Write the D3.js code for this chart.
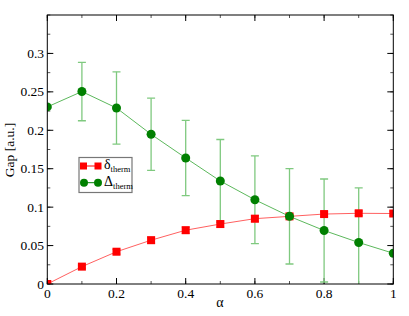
<!DOCTYPE html>
<html>
<head>
<meta charset="utf-8">
<script src="https://cdn.jsdelivr.net/npm/d3@7"></script>
<style>
  body { margin: 0; background: #fff; }
  text { font-family: "Liberation Serif", "DejaVu Serif", serif; }
</style>
</head>
<body>
<div id="chart"></div>
<script>
// data
var alpha = [0, 0.1, 0.2, 0.3, 0.4, 0.5, 0.6, 0.7, 0.8, 0.9, 1.0];
var deltaTherm = [0, 0.0226, 0.042, 0.057, 0.070, 0.078, 0.085, 0.088, 0.091, 0.092, 0.0917];
var deltaErr = [0, 0.002, 0.003, 0.004, 0.004, 0.004, 0.004, 0.003, 0.003, 0.003, 0.003];
var bigDelta = [0.2304, 0.2504, 0.229, 0.1948, 0.164, 0.134, 0.1096, 0.088, 0.0696, 0.054, 0.040];
var bigDeltaErr = [0, 0.038, 0.047, 0.047, 0.049, 0.054, 0.057, 0.062, 0.067, 0.071, 0];
var xTicks = [0, 0.2, 0.4, 0.6, 0.8, 1];
var yTicks = [0, 0.05, 0.1, 0.15, 0.2, 0.25, 0.3];

var chart_width = 409
var chart_height = 316
var pLeft = 47.3, pRight = 393.3, pTop = 15, pBottom = 284

var svg = d3.select('#chart')
    .append('svg')
    .attr('width', chart_width)
    .attr('height', chart_height);

var x = d3.scaleLinear().domain([0, 1]).range([pLeft, pRight]);
var y = d3.scaleLinear().domain([0, 0.35]).range([pBottom, pTop]);

// ticks (inward, all four sides)
var xMinor = d3.range(0, 1.0001, 0.1);
var yMinor = d3.range(0, 0.3501, 0.025);
function tickLines(vals, len, horiz, col) {
    vals.forEach(function(v){
        if (horiz) {
            svg.append('line').attr('x1', x(v)).attr('x2', x(v)).attr('y1', pBottom).attr('y2', pBottom - len).attr('stroke', col);
            svg.append('line').attr('x1', x(v)).attr('x2', x(v)).attr('y1', pTop).attr('y2', pTop + len).attr('stroke', col);
        } else {
            svg.append('line').attr('y1', y(v)).attr('y2', y(v)).attr('x1', pLeft).attr('x2', pLeft + len).attr('stroke', col);
            svg.append('line').attr('y1', y(v)).attr('y2', y(v)).attr('x1', pRight).attr('x2', pRight - len).attr('stroke', col);
        }
    });
}
tickLines(xMinor, 3, true, '#555');
tickLines(xTicks, 6, true, '#000');
tickLines(yMinor, 3, false, '#555');
tickLines(yTicks, 6, false, '#000');

svg.selectAll('.xl')
    .data(xTicks)
    .enter()
    .append('text')
    .text(function(d){ return +d.toFixed(1); })
    .attr('x', function(d){ return x(d); })
    .attr('y', 298)
    .attr('font-size', 13.5)
    .attr('text-anchor', 'middle');

svg.selectAll('.yl')
    .data(yTicks)
    .enter()
    .append('text')
    .text(function(d){ return +d.toFixed(2); })
    .attr('x', 44)
    .attr('y', function(d){ return y(d) + 4.5; })
    .attr('font-size', 13.5)
    .attr('text-anchor', 'end');

svg.append('text')
    .text('α')
    .attr('x', 220).attr('y', 307)
    .attr('font-size', 14)
    .attr('text-anchor', 'middle');

svg.append('text')
    .text('Gap [a.u.]')
    .attr('transform', 'translate(14,150) rotate(-90)')
    .attr('font-size', 13.5)
    .attr('text-anchor', 'middle');

var gData = alpha.map(function(a, i){ return {x: a, y: bigDelta[i], e: bigDeltaErr[i]}; });
var rData = alpha.map(function(a, i){ return {x: a, y: deltaTherm[i], e: deltaErr[i]}; });

svg.append('clipPath').attr('id', 'clip')
    .append('rect').attr('x', pLeft).attr('y', pTop).attr('width', pRight - pLeft).attr('height', pBottom - pTop);
var plot = svg.append('g').attr('clip-path', 'url(#clip)');

function errBars(data, color, cap) {
    var g = plot.append('g').attr('stroke', color).attr('stroke-width', 1.3);
    data.filter(function(d){ return d.e > 0; }).forEach(function(d){
        g.append('line').attr('x1', x(d.x)).attr('x2', x(d.x)).attr('y1', y(d.y - d.e)).attr('y2', y(d.y + d.e));
        g.append('line').attr('x1', x(d.x) - cap).attr('x2', x(d.x) + cap).attr('y1', y(d.y - d.e)).attr('y2', y(d.y - d.e));
        g.append('line').attr('x1', x(d.x) - cap).attr('x2', x(d.x) + cap).attr('y1', y(d.y + d.e)).attr('y2', y(d.y + d.e));
    });
}

var line = d3.line().x(function(d){ return x(d.x); }).y(function(d){ return y(d.y); });

errBars(gData, '#7fc97f', 4);
errBars(rData, '#ff8080', 4);

plot.append('path').datum(rData).attr('d', line).attr('fill', 'none').attr('stroke', '#ff6060').attr('stroke-width', 1);
plot.append('path').datum(gData).attr('d', line).attr('fill', 'none').attr('stroke', '#5cb85c').attr('stroke-width', 1);

plot.selectAll('.sq')
    .data(rData)
    .enter()
    .append('rect')
    .attr('x', function(d){ return x(d.x) - 4; })
    .attr('y', function(d){ return y(d.y) - 4; })
    .attr('width', 8).attr('height', 8)
    .attr('fill', '#ff0000');

plot.selectAll('.ci')
    .data(gData)
    .enter()
    .append('circle')
    .attr('cx', function(d){ return x(d.x); })
    .attr('cy', function(d){ return y(d.y); })
    .attr('r', 4.5)
    .attr('fill', '#008000');

// frame
svg.append('rect')
    .attr('x', pLeft).attr('y', pTop)
    .attr('width', pRight - pLeft).attr('height', pBottom - pTop)
    .attr('fill', 'none').attr('stroke', '#000').attr('stroke-width', 1);

// legend
var lg = svg.append('g');
lg.append('rect').attr('x', 79).attr('y', 157.5).attr('width', 53).attr('height', 35)
    .attr('fill', '#fff').attr('stroke', '#777').attr('stroke-width', 1.2);
lg.append('line').attr('x1', 83).attr('x2', 98).attr('y1', 166).attr('y2', 166).attr('stroke', '#ff0000');
lg.append('rect').attr('x', 80).attr('y', 162.5).attr('width', 7).attr('height', 7).attr('fill', '#ff0000');
lg.append('rect').attr('x', 94.5).attr('y', 162.5).attr('width', 7).attr('height', 7).attr('fill', '#ff0000');
lg.append('line').attr('x1', 83).attr('x2', 98).attr('y1', 182.7).attr('y2', 182.7).attr('stroke', '#008000');
lg.append('circle').attr('cx', 84).attr('cy', 182.7).attr('r', 4).attr('fill', '#008000');
lg.append('circle').attr('cx', 98).attr('cy', 182.7).attr('r', 4).attr('fill', '#008000');

var t1 = lg.append('text').attr('x', 104).attr('y', 169).attr('font-size', 14);
t1.append('tspan').text('δ');
t1.append('tspan').text('therm').attr('font-size', 8.5).attr('dy', 3);
var t2 = lg.append('text').attr('x', 104).attr('y', 186).attr('font-size', 14);
t2.append('tspan').text('Δ');
t2.append('tspan').text('therm').attr('font-size', 8.5).attr('dy', 3);
</script>
</body>
</html>
